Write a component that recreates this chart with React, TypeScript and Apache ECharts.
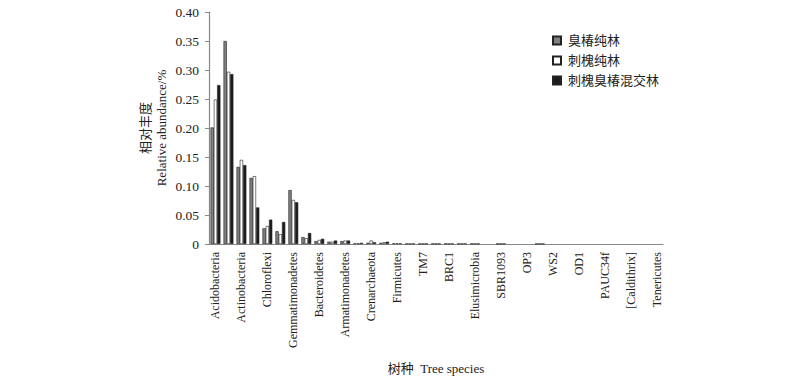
import React, { useEffect, useRef } from "react";
import * as echarts from "echarts";

const categories = [
  "Acidobacteria", "Proteobacteria", "Actinobacteria", "Planctomycetes", "Chloroflexi",
  "Nitrospirae", "Gemmatimonadetes", "Verrucomicrobia", "Bacteroidetes", "Chlorobi",
  "Armatimonadetes", "Cyanobacteria", "Crenarchaeota", "WS3", "Firmicutes",
  "Euryarchaeota", "TM7", "FBP", "BRC1", "AD3",
  "Elusimicrobia", "GAL15", "SBR1093", "Fibrobacteres", "OP3",
  "Chlamydiae", "WS2", "Spirochaetes", "OD1", "TM6",
  "PAUC34f", "GN02", "[Caldithrix]", "Thermi", "Tenericutes",
];

const seriesNames = ["臭椿纯林", "刺槐纯林", "刺槐臭椿混交林"];

const ailanthus = [
  0.201, 0.35, 0.133, 0.114, 0.027, 0.022, 0.093, 0.012, 0.005, 0.004,
  0.005, 0.001, 0.002, 0.002, 0.001, 0.0005, 0.0004, 0.0006, 0.0006, 0.0005,
  0.0005, 0, 0.0004, 0, 0, 0.0004, 0, 0, 0, 0,
  0, 0, 0, 0, 0,
];
const robinia = [
  0.249, 0.297, 0.145, 0.117, 0.031, 0.017, 0.076, 0.010, 0.007, 0.004,
  0.006, 0.001, 0.006, 0.003, 0.001, 0.0005, 0.0004, 0.0005, 0.0005, 0.0005,
  0.0004, 0, 0.0004, 0, 0, 0.0003, 0, 0, 0, 0,
  0, 0, 0, 0, 0,
];
const mixed = [
  0.274, 0.293, 0.136, 0.063, 0.042, 0.038, 0.072, 0.019, 0.009, 0.006,
  0.006, 0.002, 0.003, 0.004, 0.001, 0.0007, 0.0005, 0.0007, 0.0007, 0.0006,
  0.0006, 0, 0.0005, 0, 0, 0.0005, 0, 0, 0, 0,
  0, 0, 0, 0, 0,
];

const fills = ["#808080", "#ffffff", "#1c1c1c"];
const FONT = "'Liberation Serif', 'Times New Roman', 'Noto Sans CJK SC', serif";

export default function App() {
  const ref = useRef<HTMLDivElement>(null);
  useEffect(() => {
    document.body.style.margin = "0";
    const chart = echarts.init(ref.current!, null, { renderer: "svg" });
    const data = [ailanthus, robinia, mixed];
    chart.setOption({
      animation: false,
      backgroundColor: "#ffffff",
      textStyle: { fontFamily: FONT, color: "#222" },
      grid: { left: 209, right: 137, top: 12, bottom: 137 },
      legend: {
        orient: "vertical",
        left: 552,
        top: 34,
        itemWidth: 8,
        itemHeight: 8,
        itemGap: 7,
        padding: 0,
        icon: "rect",
        textStyle: { fontFamily: FONT, fontSize: 13, color: "#222", padding: [0, 0, 0, 2] },
        data: seriesNames,
      },
      xAxis: {
        type: "category",
        data: categories,
        name: "树种  Tree species",
        nameLocation: "middle",
        nameGap: 118,
        nameTextStyle: { fontFamily: FONT, fontSize: 13, color: "#222" },
        axisLine: { lineStyle: { color: "#888", width: 1.2 } },
        axisTick: { show: false },
        axisLabel: {
          interval: 1,
          rotate: 90,
          fontSize: 12,
          margin: 8,
          color: "#222",
          fontFamily: FONT,
        },
      },
      yAxis: {
        type: "value",
        min: 0,
        max: 0.4,
        interval: 0.05,
        splitLine: { show: false },
        axisLine: { show: true, lineStyle: { color: "#888", width: 1.2 } },
        axisTick: { show: true, length: 4, lineStyle: { color: "#888" } },
        axisLabel: {
          fontSize: 13.5,
          margin: 10,
          color: "#222",
          fontFamily: FONT,
          formatter: (v: number) => (v === 0 ? "0" : v.toFixed(2)),
        },
      },
      graphic: [
        {
          type: "text",
          x: 153,
          y: 128,
          rotation: Math.PI / 2,
          style: {
            text: "相对丰度\nRelative abundance/%",
            align: "center",
            verticalAlign: "middle",
            lineHeight: 16,
            fontSize: 13,
            fontFamily: FONT,
            fill: "#222",
          },
        },
      ],
      series: seriesNames.map((name, i) => ({
        name,
        type: "bar",
        data: data[i].map((v) => (v === 0 ? "-" : v)),
        barGap: "0%",
        barCategoryGap: "24%",
        z: 1,
        itemStyle: { color: fills[i], borderColor: "#222", borderWidth: 0.6 },
      })),
    });
    return () => chart.dispose();
  }, []);
  return <div ref={ref} style={{ width: 800, height: 381 }} />;
}
